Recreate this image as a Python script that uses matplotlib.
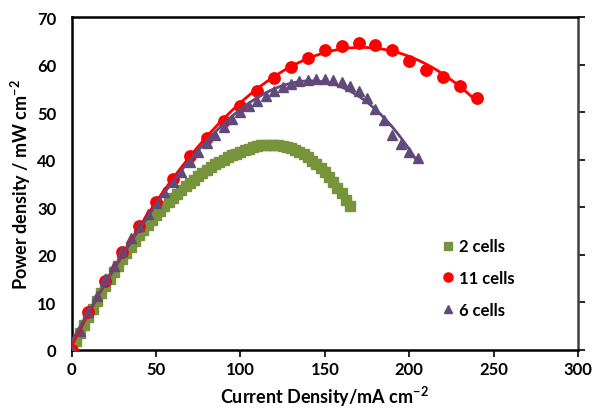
import numpy as np
import matplotlib
matplotlib.use("Agg")
import matplotlib.pyplot as plt

plt.rcParams['font.family'] = ['Lato', 'DejaVu Sans']
plt.rcParams['mathtext.fontset'] = 'custom'
plt.rcParams['mathtext.rm'] = 'Lato'
plt.rcParams['mathtext.bf'] = 'Lato:bold'
plt.rcParams['mathtext.default'] = 'bf'

# ---- data ----
x_2cells = [0, 2.5, 5, 7.5, 10, 12.5, 15, 17.5, 20, 22.5, 25, 27.5, 30, 32.5, 35, 37.5,
            40, 42.5, 45, 47.5, 50, 52.5, 55, 57.5, 60, 62.5, 65, 67.5, 70, 72.5, 75, 77.5,
            80, 82.5, 85, 87.5, 90, 92.5, 95, 97.5, 100, 102.5, 105, 107.5, 110, 112.5, 115,
            117.5, 120, 122.5, 125, 127.5, 130, 132.5, 135, 137.5, 140, 142.5, 145, 147.5,
            150, 152.5, 155, 157.5, 160, 162.5, 165]
y_2cells = [0, 1.8, 3.5, 5.3, 7.0, 8.7, 10.3, 11.9, 13.4, 14.9, 16.3, 17.7, 19.1, 20.4,
            21.7, 22.9, 24.1, 25.2, 26.3, 27.3, 28.3, 29.3, 30.2, 31.1, 32.0, 32.8, 33.6,
            34.4, 35.1, 35.8, 36.5, 37.2, 37.8, 38.4, 39.0, 39.5, 40.0, 40.5, 40.9, 41.3,
            41.7, 42.0, 42.3, 42.6, 42.8, 43.0, 43.1, 43.1, 43.1, 43.0, 42.9, 42.7, 42.4,
            42.0, 41.6, 41.1, 40.5, 39.8, 39.1, 38.3, 37.4, 36.4, 35.3, 34.1, 32.9, 31.6, 30.2]

x_11cells = [0, 10, 20, 30, 40, 50, 60, 70, 80, 90, 100, 110, 120, 130, 140, 150, 160,
             170, 180, 190, 200, 210, 220, 230, 240]
y_11cells = [0, 7.9, 14.5, 20.7, 26.0, 31.2, 36.0, 40.7, 44.5, 48.1, 51.4, 54.5, 57.2,
             59.5, 61.4, 63.0, 64.0, 64.5, 64.2, 63.1, 60.8, 58.9, 57.4, 55.5, 53.0]

x_6cells = [0, 5, 10, 15, 20, 25, 30, 35, 40, 45, 50, 55, 60, 65, 70, 75, 80, 85, 90, 95,
            100, 105, 110, 115, 120, 125, 130, 135, 140, 145, 150, 155, 160, 165, 170, 175,
            180, 185, 190, 195, 200, 205]
y_6cells = [0, 4.0, 7.9, 11.4, 14.9, 17.7, 20.9, 23.5, 26.1, 28.6, 30.9, 33.2, 35.3, 37.4,
            39.5, 41.6, 43.5, 45.2, 46.8, 48.6, 50.0, 51.3, 52.4, 53.5, 54.5, 55.3, 56.0,
            56.5, 56.8, 57.0, 57.0, 56.8, 56.4, 55.5, 54.4, 52.9, 50.7, 48.4, 45.2, 43.3,
            41.7, 40.3]

x_ticks = [0, 50, 100, 150, 200, 250, 300]
y_ticks = [0, 10, 20, 30, 40, 50, 60, 70]

GREEN = '#77933C'
RED = '#FF0000'
PURPLE = '#604A7B'

fig = plt.figure(figsize=(5.96, 4.10), dpi=100)
ax = fig.add_axes([0.120, 0.144, 0.850, 0.812])

ax.plot(x_2cells, y_2cells, linestyle='none', marker='s', markersize=6.9,
        color=GREEN, label='2 cells', zorder=2)
ax.plot(x_11cells, y_11cells, linestyle='none', marker='o', markersize=8.2,
        color=RED, label='11 cells', zorder=3)
ax.plot(x_6cells, y_6cells, linestyle='none', marker='^', markersize=7.5,
        color=PURPLE, label='6 cells', zorder=4)

# polynomial trendlines
for xs, ys, col in [(x_11cells, y_11cells, RED), (x_6cells, y_6cells, PURPLE)]:
    xs = np.asarray(xs, float); ys = np.asarray(ys, float)
    c = np.polyfit(xs, ys, 3)
    xx = np.linspace(xs.min(), xs.max(), 300)
    ax.plot(xx, np.polyval(c, xx), color=col, linewidth=2, zorder=5)

ax.set_xlim(0, 300)
ax.set_ylim(0, 70)
ax.set_xticks(x_ticks)
ax.set_yticks(y_ticks)

for s in ['left', 'bottom', 'top']:
    ax.spines[s].set_linewidth(1.8)
    ax.spines[s].set_color('black')
ax.spines['right'].set_linewidth(1.8)
ax.spines['right'].set_color('#404040')

ax.tick_params(axis='x', direction='out', length=5, width=1.2, labelsize=12, pad=3)
ax.tick_params(axis='y', left=False, right=True, direction='out', length=5, width=1.2,
               labelsize=12, pad=6, colors='black')
ax.tick_params(axis='y', which='both', labelright=False, labelleft=True)
for lab in ax.get_xticklabels() + ax.get_yticklabels():
    lab.set_fontweight('bold')

ax.set_xlabel('Current Density/mA cm$^{-2}$', fontsize=13, fontweight='bold', labelpad=5)
ax.set_ylabel('Power density / mW cm$^{-2}$', fontsize=13, fontweight='bold', labelpad=3)

leg = ax.legend(loc='upper left', bbox_to_anchor=(0.70, 0.38), frameon=False,
                prop={'weight': 'bold', 'size': 12}, handlelength=0.8, handletextpad=0.3,
                labelspacing=0.95, markerscale=0.8)

fig.savefig('out.png', dpi=100)
